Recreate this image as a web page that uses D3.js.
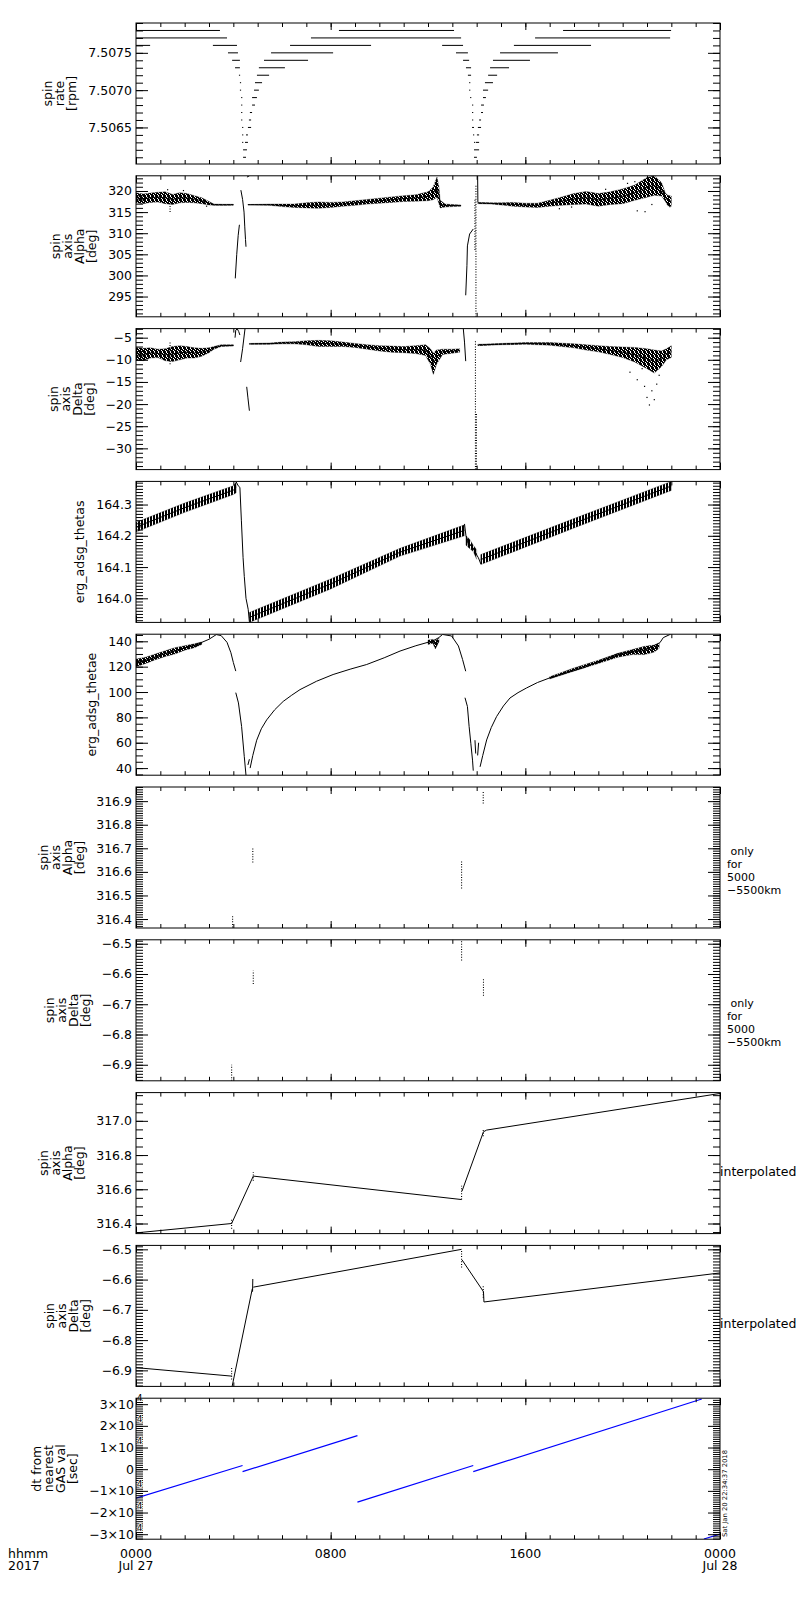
<!DOCTYPE html>
<html>
<head>
<meta charset="utf-8">
<script src="https://cdn.jsdelivr.net/npm/d3@7"></script>
<style>
  body { margin: 0; background: #fff; }
  svg { display: block; }
  text { font-family: "DejaVu Sans", sans-serif; fill: #000; }
</style>
</head>
<body>
<svg id="chart" width="800" height="1600"></svg>
<script>
// ---- data (time in hours of Jul 27 2017) ----
var yLabels = [
  ["spin", "rate", "[rpm]"],
  ["spin", "axis", "Alpha", "[deg]"],
  ["spin", "axis", "Delta", "[deg]"],
  ["erg_adsg_thetas"],
  ["erg_adsg_thetae"],
  ["spin", "axis", "Alpha", "[deg]"],
  ["spin", "axis", "Delta", "[deg]"],
  ["spin", "axis", "Alpha", "[deg]"],
  ["spin", "axis", "Delta", "[deg]"],
  ["dt from", "nearest", "GAS val", "[sec]"]
];
var sideNotes = [null, null, null, null, null,
  [" only", "for", "5000", "\u22125500km"],
  [" only", "for", "5000", "\u22125500km"],
  ["interpolated"], ["interpolated"], null];

var xTickHours = [0, 8, 16, 24];
var xTickLabels = [["0000", "Jul 27"], ["0800"], ["1600"], ["0000", "Jul 28"]];
var xCornerLabel = ["hhmm", "2017"];
var stampText = "Sat Jan 20 22:34:37 2018";

var rateTicks = [7.5065, 7.5070, 7.5075];
var alphaTicks = [295, 300, 305, 310, 315, 320];
var deltaTicks = [-30, -25, -20, -15, -10, -5];
var thetasTicks = [164.0, 164.1, 164.2, 164.3];
var thetaeTicks = [40, 60, 80, 100, 120, 140];
var alphaOnlyTicks = [316.4, 316.5, 316.6, 316.7, 316.8, 316.9];
var deltaOnlyTicks = [-6.9, -6.8, -6.7, -6.6, -6.5];
var alphaInterpTicks = [316.4, 316.6, 316.8, 317.0];
var deltaInterpTicks = [-6.9, -6.8, -6.7, -6.6, -6.5];
var dtTicks = [-30000, -20000, -10000, 0, 10000, 20000, 30000];

// spin rate: [level, start hour, end hour]
var rateLevels = [
  [7.5078, 0.00, 3.45], [7.5078, 8.34, 13.07], [7.5078, 17.55, 21.99],
  [7.5077, 0.00, 3.74], [7.5077, 7.19, 13.36], [7.5077, 16.40, 21.95],
  [7.5076, 0.00, 0.58], [7.5076, 3.16, 4.15], [7.5076, 6.33, 9.66], [7.5076, 12.58, 13.44], [7.5076, 15.53, 18.70],
  [7.5075, 3.78, 4.19], [7.5075, 5.55, 8.10], [7.5075, 13.15, 13.64], [7.5075, 14.96, 17.34],
  [7.5074, 3.95, 4.27], [7.5074, 5.26, 7.07], [7.5074, 13.44, 13.69], [7.5074, 14.67, 16.19],
  [7.5073, 4.07, 4.27], [7.5073, 5.05, 6.12], [7.5073, 13.56, 13.77], [7.5073, 14.55, 15.33],
  [7.5072, 4.23, 4.25], [7.5072, 4.97, 5.47], [7.5072, 13.64, 13.77], [7.5072, 14.47, 14.84],
  [7.5071, 4.27, 4.29], [7.5071, 4.89, 5.18], [7.5071, 13.69, 13.71], [7.5071, 14.34, 14.67],
  [7.5070, 4.27, 4.29], [7.5070, 4.85, 5.05], [7.5070, 13.69, 13.71], [7.5070, 14.26, 14.47],
  [7.5069, 4.32, 4.34], [7.5069, 4.77, 4.97], [7.5069, 13.73, 13.77], [7.5069, 14.26, 14.38],
  [7.5068, 4.32, 4.34], [7.5068, 4.77, 4.89], [7.5068, 13.81, 13.83], [7.5068, 14.18, 14.30],
  [7.5067, 4.32, 4.34], [7.5067, 4.68, 4.77], [7.5067, 13.81, 13.83], [7.5067, 14.18, 14.26],
  [7.5066, 4.32, 4.34], [7.5066, 4.64, 4.73], [7.5066, 13.81, 13.85], [7.5066, 14.10, 14.18],
  [7.5065, 4.36, 4.38], [7.5065, 4.60, 4.73], [7.5065, 13.81, 13.89], [7.5065, 14.05, 14.18],
  [7.5064, 4.36, 4.38], [7.5064, 4.52, 4.60], [7.5064, 13.85, 13.89], [7.5064, 14.01, 14.10],
  [7.5063, 4.36, 4.40], [7.5063, 4.48, 4.60], [7.5063, 13.89, 13.93], [7.5063, 13.97, 14.10],
  [7.5062, 4.40, 4.56], [7.5062, 13.89, 14.10],
  [7.5061, 4.40, 4.52], [7.5061, 13.89, 14.01]
];

// noisy bands: [hour, low, high]
var alphaBandA = [[0.0, 317.2, 319.6], [0.3, 317.0, 319.3], [0.6, 317.3, 319.5], [0.9, 317.4, 319.7],
  [1.2, 317.0, 319.8], [1.5, 316.8, 319.2], [1.8, 317.2, 319.6], [2.1, 317.3, 319.4], [2.4, 317.2, 318.9],
  [2.7, 317.0, 318.4], [3.0, 316.7, 317.5], [3.2, 316.6, 316.9], [3.6, 316.6, 316.85], [4.0, 316.65, 316.85]];
var alphaBandB = [[4.6, 316.7, 316.8], [5.5, 316.6, 316.9], [6.0, 316.3, 316.9], [6.5, 316.1, 316.9],
  [7.0, 316.0, 317.2], [7.5, 315.9, 317.4], [8.0, 316.1, 317.3], [8.5, 316.4, 317.4], [9.0, 316.6, 317.7],
  [9.5, 316.9, 318.0], [10.0, 317.1, 318.3], [10.5, 317.3, 318.6], [11.0, 317.5, 318.9], [11.5, 317.6, 319.1],
  [12.0, 317.7, 319.8], [12.2, 317.9, 320.8], [12.37, 318.5, 323.3], [12.45, 317.0, 321.0], [12.5, 316.0, 317.8],
  [12.7, 316.2, 316.9], [13.0, 316.3, 316.8], [13.35, 316.4, 316.7]];
var alphaBandC = [[14.05, 317.0, 317.3], [14.6, 316.9, 317.2], [15.0, 316.7, 317.2], [15.5, 316.4, 317.3],
  [16.0, 316.2, 317.1], [16.5, 316.1, 317.1], [17.0, 316.4, 317.8], [17.5, 316.6, 318.6], [18.0, 316.8, 319.4],
  [18.5, 316.9, 319.9], [19.0, 316.4, 319.4], [19.5, 316.8, 319.8], [20.0, 317.0, 320.5], [20.5, 317.8, 321.4],
  [21.0, 318.5, 323.2], [21.3, 319.0, 323.6], [21.6, 318.8, 322.0], [21.75, 317.6, 319.5], [21.85, 316.5, 319.0],
  [22.0, 316.4, 318.8]];
var alphaCurves = [
  [[4.08, 299.3], [4.14, 305.0], [4.20, 309.5], [4.25, 312.0]],
  [[4.31, 320.2], [4.38, 318.0], [4.44, 315.0], [4.47, 311.5], [4.50, 308.5], [4.52, 306.8]],
  [[4.56, 323.3], [4.66, 323.6]],
  [[13.55, 295.3], [13.60, 302.3], [13.62, 307.0], [13.71, 309.8], [13.86, 311.0]],
  [[14.04, 323.6], [14.05, 317.3]]
];
var alphaSpikes = [[1.4, 315.0, 317.5], [13.97, 290.2, 321.3], [13.93, 306.0, 318.0]];
var alphaPts = [[20.5, 322.2], [20.92, 315.1], [20.6, 315.3], [21.94, 316.3], [17.4, 315.8], [17.9, 316.2],
  [19.3, 320.4], [20.2, 321.8], [21.2, 316.8], [1.3, 320.3], [1.95, 320.1], [2.9, 316.4]];

var deltaBandA = [[0.0, -10.0, -7.2], [0.3, -10.2, -7.4], [0.6, -9.6, -7.3], [0.9, -9.5, -7.6],
  [1.2, -10.2, -7.5], [1.5, -10.4, -7.0], [1.8, -10.0, -6.8], [2.1, -9.6, -7.0], [2.4, -9.6, -7.3],
  [2.7, -9.2, -7.4], [3.0, -8.4, -7.3], [3.2, -7.6, -7.0], [3.5, -7.0, -6.6], [4.0, -6.9, -6.6]];
var deltaBandB = [[4.66, -6.5, -6.3], [5.5, -6.5, -6.2], [6.0, -6.4, -6.0], [6.5, -6.4, -5.9],
  [7.0, -6.6, -5.7], [7.5, -7.0, -5.6], [8.0, -7.0, -5.7], [8.5, -7.0, -6.0], [9.0, -7.2, -6.3],
  [9.5, -7.6, -6.6], [10.0, -8.0, -6.8], [10.5, -8.3, -6.9], [11.0, -8.4, -7.0], [11.5, -8.6, -6.8],
  [11.9, -9.0, -6.6], [12.1, -11.0, -7.5], [12.22, -13.3, -8.5], [12.35, -11.0, -7.8], [12.6, -8.8, -7.6],
  [13.0, -8.5, -7.6], [13.3, -8.3, -7.5]];
var deltaBandC = [[14.05, -6.8, -6.5], [15.0, -6.6, -6.3], [16.0, -6.5, -6.1], [17.0, -6.7, -6.1],
  [18.0, -7.3, -6.4], [18.5, -7.8, -6.6], [19.0, -8.2, -6.8], [19.5, -8.8, -7.0], [20.0, -9.5, -7.1],
  [20.5, -10.5, -7.2], [21.0, -12.0, -7.5], [21.3, -13.0, -7.8], [21.6, -11.5, -8.0], [21.8, -10.0, -7.5],
  [22.0, -9.5, -6.8]];
var deltaCurves = [
  [[4.07, -5.0], [4.10, -3.3], [4.16, -3.0], [4.22, -3.6], [4.27, -4.4]],
  [[4.30, -10.5], [4.38, -7.5], [4.48, -3.0]],
  [[4.55, -16.1], [4.60, -18.6], [4.66, -21.5]],
  [[13.45, -2.95], [13.50, -6.0], [13.55, -10.3]]
];
var deltaSpikes = [[1.4, -11.0, -5.7], [13.95, -34.8, -5.5], [13.99, -34.8, -22.0]];
var deltaPts = [[20.6, -14.5], [20.9, -16.0], [21.0, -18.5], [21.1, -20.2], [21.2, -17.0], [21.4, -15.5],
  [20.3, -12.8], [21.5, -13.5], [20.8, -12.0], [21.3, -19.0]];

var thetasBands = [
  [[0.0, 164.212, 164.243], [2.0, 164.275, 164.305], [4.0, 164.332, 164.360], [4.12, 164.338, 164.372]],
  [[4.66, 163.923, 163.955], [8.0, 164.030, 164.062], [10.85, 164.135, 164.160], [13.5, 164.200, 164.235]],
  [[13.56, 164.170, 164.200], [13.7, 164.160, 164.190], [13.86, 164.150, 164.170], [14.0, 164.125, 164.155]],
  [[14.17, 164.108, 164.140], [18.0, 164.225, 164.255], [22.0, 164.345, 164.374]]
];
var thetasDrops = [
  [[4.12, 164.372], [4.20, 164.360], [4.27, 164.355], [4.33, 164.25], [4.40, 164.13], [4.45, 164.07],
   [4.52, 164.0], [4.61, 163.965], [4.66, 163.925]],
  [[13.5, 164.238], [13.56, 164.2], [13.62, 164.19], [13.66, 164.165], [13.75, 164.17], [13.86, 164.16],
   [13.95, 164.145], [14.07, 164.13], [14.17, 164.11]]
];

var thetaeBands = [
  [[0.0, 120.0, 126.0], [0.4, 122.5, 127.5], [0.8, 125.5, 130.0], [1.2, 128.0, 132.5], [1.6, 130.0, 135.0],
   [2.0, 133.0, 136.5], [2.4, 135.0, 138.0], [2.7, 137.5, 139.5]],
  [[12.0, 137.5, 141.0], [12.2, 138.5, 141.5], [12.3, 134.0, 140.5], [12.45, 139.5, 142.5]],
  [[17.0, 110.3, 112.0], [18.0, 116.5, 119.0], [19.0, 122.5, 125.0], [19.8, 127.5, 130.5], [20.4, 129.5, 133.5],
   [20.9, 129.5, 136.0], [21.3, 131.5, 137.0], [21.5, 134.5, 138.5]]
];
var thetaeLines = [
  [[0.0, 122.5], [0.5, 125.0], [1.0, 129.0], [1.5, 132.0], [2.0, 135.0], [2.5, 137.5], [3.0, 141.6], [3.3, 145.3],
   [3.5, 144.5], [3.74, 139.2], [3.9, 131.0], [4.0, 123.3], [4.1, 116.5]],
  [[4.10, 99.5], [4.21, 91.4], [4.34, 72.8], [4.45, 49.0], [4.52, 34.4]],
  [[4.60, 42.5], [4.66, 47.0]],
  [[4.69, 40.0], [4.80, 50.0], [4.96, 62.0], [5.15, 71.0], [5.37, 78.0], [5.70, 86.0], [6.05, 92.6], [6.40, 97.5],
   [6.74, 101.9], [7.42, 108.5], [8.10, 113.8], [8.80, 118.0], [9.48, 121.7], [10.2, 127.0], [10.85, 132.3],
   [11.5, 136.5], [12.2, 140.3], [12.45, 143.0], [12.6, 145.4], [12.97, 144.2], [13.25, 136.3], [13.42, 125.7],
   [13.55, 116.4]],
  [[13.52, 95.5], [13.62, 88.6], [13.69, 72.8], [13.76, 59.6], [13.83, 46.3], [13.86, 38.0]],
  [[13.93, 62.0], [13.96, 51.5]],
  [[14.04, 50.0], [14.08, 60.0]],
  [[14.14, 41.0], [14.25, 50.0], [14.41, 62.2], [14.60, 72.0], [14.82, 80.7], [15.10, 89.0], [15.37, 95.3],
   [15.70, 99.5], [16.05, 103.2], [16.50, 107.5], [17.01, 111.2], [17.70, 115.2], [18.38, 119.1], [19.07, 124.4],
   [19.75, 129.7], [20.44, 132.3], [21.12, 135.0], [21.53, 138.9], [21.67, 142.9], [21.97, 145.6]]
];

// 5000-5500 km only: [hour, low, high]
var alphaOnly = [[3.97, 316.364, 316.415], [4.80, 316.64, 316.70], [13.38, 316.53, 316.65], [14.27, 316.89, 316.94]];
var deltaOnly = [[3.93, -6.953, -6.90], [4.82, -6.633, -6.589], [13.38, -6.555, -6.489], [14.28, -6.672, -6.616]];

var alphaInterp = [
  [[0.0, 316.345], [3.93, 316.40], [4.82, 316.677], [13.38, 316.54]],
  [[13.40, 316.59], [14.28, 316.936], [14.41, 316.946], [24.0, 317.16]]
];
var alphaInterpDots = [[3.93, 316.37, 316.43], [4.82, 316.65, 316.70], [13.38, 316.54, 316.62], [14.27, 316.91, 316.95]];
var deltaInterp = [
  [[0.0, -6.891], [3.93, -6.919]],
  [[3.95, -6.953], [4.78, -6.630]],
  [[4.79, -6.640], [4.80, -6.598]],
  [[4.82, -6.625], [13.38, -6.500]],
  [[13.40, -6.535], [14.28, -6.640], [14.30, -6.674], [24.0, -6.578]]
];
var deltaInterpDots = [[3.93, -6.93, -6.89], [13.38, -6.56, -6.50], [14.27, -6.66, -6.62]];

var dtSegs = [
  [[0.0, -13400], [4.38, 1700]],
  [[4.38, -1100], [9.10, 15500]],
  [[9.10, -15200], [13.86, 1700]],
  [[13.86, -1100], [23.25, 32400]],
  [[23.34, -32200], [24.0, -29900]]
];

// ---- layout ----
var LEFT = 136, RIGHT = 720, TOP0 = 23, STEP = 152.8, PH = 141;
var FONT = 12.5;

var fmt1 = d3.format(".1f");
var panels = [
  {domain: [7.50601, 7.5079], major: rateTicks, minor: 0.0001, fmt: d3.format(".4f"),
   layers: [{type: "levels", data: rateLevels}]},
  {domain: [290.2, 323.6], major: alphaTicks, minor: 1, fmt: d3.format("d"),
   layers: [{type: "band", data: [alphaBandA, alphaBandB, alphaBandC]},
            {type: "line", data: alphaCurves}, {type: "dots", data: alphaSpikes}, {type: "pts", data: alphaPts}]},
  {domain: [-34.8, -2.95], major: deltaTicks, minor: 1, fmt: d3.format("d"),
   layers: [{type: "band", data: [deltaBandA, deltaBandB, deltaBandC]},
            {type: "line", data: deltaCurves}, {type: "dots", data: deltaSpikes}, {type: "pts", data: deltaPts}]},
  {domain: [163.923, 164.374], major: thetasTicks, minor: 0.01, fmt: fmt1,
   layers: [{type: "band", data: thetasBands, fill: "url(#stripes)"}, {type: "line", data: thetasDrops}]},
  {domain: [34.4, 145.6], major: thetaeTicks, minor: 5, fmt: d3.format("d"),
   layers: [{type: "band", data: thetaeBands}, {type: "line", data: thetaeLines}]},
  {domain: [316.362, 316.96], major: alphaOnlyTicks, minor: 0.01, fmt: fmt1,
   layers: [{type: "dots", data: alphaOnly}]},
  {domain: [-6.953, -6.487], major: deltaOnlyTicks, minor: 0.01, fmt: fmt1,
   layers: [{type: "dots", data: deltaOnly}]},
  {domain: [316.341, 317.165], major: alphaInterpTicks, minor: 0.05, fmt: fmt1,
   layers: [{type: "line", data: alphaInterp}, {type: "dots", data: alphaInterpDots}]},
  {domain: [-6.953, -6.487], major: deltaInterpTicks, minor: 0.01, fmt: fmt1,
   layers: [{type: "line", data: deltaInterp}, {type: "dots", data: deltaInterpDots}]},
  {domain: [-32300, 32760], major: dtTicks, minor: 1000, fmt: null, sci: true,
   layers: [{type: "line", data: dtSegs, color: "#0000ff", width: 1.2}]}
];

var svg = d3.select("#chart");
var x = d3.scaleLinear().domain([0, 24]).range([LEFT, RIGHT]);
var hourTicks = d3.range(0, 25);

// fill patterns that look like dense scatter / saw-tooth sampling
var defs = svg.append("defs");
var speck = defs.append("pattern").attr("id", "speck").attr("patternUnits", "userSpaceOnUse")
  .attr("width", 4).attr("height", 4);
[[0, 0], [1, 0], [3, 0], [0, 1], [1, 1], [2, 1], [0, 2], [2, 2], [3, 2], [0, 3], [1, 3], [3, 3]].forEach(function(c) {
  speck.append("rect").attr("x", c[0]).attr("y", c[1]).attr("width", 1).attr("height", 1).attr("fill", "#000");
});
defs.append("pattern").attr("id", "stripes").attr("patternUnits", "userSpaceOnUse")
  .attr("width", 3).attr("height", 6)
  .append("rect").attr("width", 2).attr("height", 6).attr("fill", "#000");

var stepTicks = function(domain, step) {
  var a = Math.ceil(domain[0] / step - 1e-9), b = Math.floor(domain[1] / step + 1e-9);
  return d3.range(a, b + 1).map(function(k) { return +(k * step).toPrecision(10); });
};

var tidyAxis = function(g) {
  g.select(".domain").remove();
  g.selectAll("line").attr("stroke", "#000").attr("stroke-width", 1);
  g.attr("font-family", null).attr("font-size", FONT);
};

var drawLayer = function(plot, y, L) {
  var col = L.color || "#000";
  var area = d3.area().x(function(d) { return x(d[0]); })
    .y0(function(d) { return y(d[1]); }).y1(function(d) { return y(d[2]); });
  var line = d3.line().x(function(d) { return x(d[0]); }).y(function(d) { return y(d[1]); });
  var mid = d3.line().x(function(d) { return x(d[0]); }).y(function(d) { return y((d[1] + d[2]) / 2); });
  if (L.type === "band") {
    L.data.forEach(function(b) {
      plot.append("path").datum(b).attr("d", area)
        .attr("fill", L.fill || "url(#speck)").attr("stroke", col).attr("stroke-width", 0.5)
        .attr("stroke-opacity", 0.6);
      plot.append("path").datum(b).attr("d", mid)
        .attr("fill", "none").attr("stroke", col).attr("stroke-width", 1);
    });
  } else if (L.type === "line") {
    L.data.forEach(function(seg) {
      plot.append("path").datum(seg).attr("d", line)
        .attr("fill", "none").attr("stroke", col).attr("stroke-width", L.width || 1);
    });
  } else if (L.type === "dots") {
    plot.selectAll(null).data(L.data).join("line")
      .attr("x1", function(d) { return x(d[0]); }).attr("x2", function(d) { return x(d[0]); })
      .attr("y1", function(d) { return y(d[1]); }).attr("y2", function(d) { return y(d[2]); })
      .attr("stroke", col).attr("stroke-width", 1.1).attr("stroke-dasharray", "1,1.6");
  } else if (L.type === "pts") {
    plot.selectAll(null).data(L.data).join("rect")
      .attr("x", function(d) { return x(d[0]) - 0.6; }).attr("y", function(d) { return y(d[1]) - 0.6; })
      .attr("width", 1.2).attr("height", 1.2).attr("fill", col);
  } else if (L.type === "levels") {
    plot.selectAll(null).data(L.data).join("rect")
      .attr("x", function(d) { return x(d[1]); })
      .attr("y", function(d) { return y(d[0]) - 0.5; })
      .attr("width", function(d) { return Math.max(1.2, x(d[2]) - x(d[1])); })
      .attr("height", 1).attr("fill", col);
  }
};

panels.forEach(function(p, i) {
  var top = TOP0 + i * STEP, bottom = top + PH, mid = top + PH / 2;
  var y = d3.scaleLinear().domain(p.domain).range([bottom, top]);
  var g = svg.append("g");

  defs.append("clipPath").attr("id", "clip" + i).append("rect")
    .attr("x", LEFT).attr("y", top).attr("width", RIGHT - LEFT).attr("height", PH);
  var plot = g.append("g").attr("clip-path", "url(#clip" + i + ")");
  p.layers.forEach(function(L) { drawLayer(plot, y, L); });

  // y axes, ticks pointing inward on both sides
  var minor = stepTicks(p.domain, p.minor);
  g.append("g").attr("transform", "translate(" + LEFT + ",0)")
    .call(d3.axisLeft(y).tickValues(minor).tickSize(-7).tickFormat("")).call(tidyAxis);
  g.append("g").attr("transform", "translate(" + RIGHT + ",0)")
    .call(d3.axisRight(y).tickValues(minor).tickSize(-7).tickFormat("")).call(tidyAxis);
  g.append("g").attr("transform", "translate(" + RIGHT + ",0)")
    .call(d3.axisRight(y).tickValues(p.major).tickSize(-12).tickFormat("")).call(tidyAxis);
  var yAx = g.append("g").attr("transform", "translate(" + LEFT + ",0)")
    .call(d3.axisLeft(y).tickValues(p.major).tickSize(-12).tickPadding(p.sci ? 2 : 4)
      .tickFormat(p.sci ? function(v) {
        if (v === 0) return "0";
        var k = v / 10000;
        return (k < 0 ? "\u2212" : "") + Math.abs(k) + "\u00d710";
      } : p.fmt))
    .call(tidyAxis);
  var labRight = LEFT + yAx.node().getBBox().x - 9;
  if (p.sci) {
    // exponent sits over the axis line, as in the original
    yAx.selectAll(".tick").filter(function(d) { return d !== 0; }).append("text")
      .attr("x", 0.8).attr("y", -4).attr("text-anchor", "start").attr("font-size", 9).attr("fill", "#000")
      .attr("stroke", "#fff").attr("stroke-width", 1.5).attr("paint-order", "stroke").text("4");
  }

  // x axes top and bottom
  g.append("g").attr("transform", "translate(0," + bottom + ")")
    .call(d3.axisBottom(x).tickValues(hourTicks).tickSize(-4).tickFormat("")).call(tidyAxis);
  g.append("g").attr("transform", "translate(0," + bottom + ")")
    .call(d3.axisBottom(x).tickValues(xTickHours).tickSize(-7).tickFormat("")).call(tidyAxis);
  g.append("g").attr("transform", "translate(0," + top + ")")
    .call(d3.axisTop(x).tickValues(hourTicks).tickSize(-4).tickFormat("")).call(tidyAxis);
  g.append("g").attr("transform", "translate(0," + top + ")")
    .call(d3.axisTop(x).tickValues(xTickHours).tickSize(-7).tickFormat("")).call(tidyAxis);

  g.append("rect").attr("x", LEFT).attr("y", top).attr("width", RIGHT - LEFT).attr("height", PH)
    .attr("fill", "none").attr("stroke", "#000").attr("stroke-width", 1);

  // rotated multi-line y label, right edge just left of tick labels
  var lab = yLabels[i];
  var lg = svg.append("g").attr("transform", "translate(" + labRight + "," + mid + ") rotate(-90)");
  lab.forEach(function(s, j) {
    lg.append("text").attr("x", 0).attr("y", -(lab.length - 1 - j) * 12 - 3)
      .attr("text-anchor", "middle").attr("font-size", FONT).text(s);
  });

  // notes at the right
  var note = sideNotes[i];
  if (note) {
    note.forEach(function(s, j) {
      var single = note.length === 1;
      svg.append("text").attr("x", single ? RIGHT : RIGHT + 7)
        .attr("y", single ? mid + 12.5 : mid - 3 + j * 13)
        .attr("font-size", single ? FONT : 11).style("white-space", "pre").text(s);
    });
  }
});

// bottom time labels
xTickHours.forEach(function(h, i) {
  xTickLabels[i].forEach(function(s, j) {
    svg.append("text").attr("x", x(h)).attr("y", 1558 + j * 12)
      .attr("text-anchor", "middle").attr("font-size", FONT).text(s);
  });
});
xCornerLabel.forEach(function(s, j) {
  svg.append("text").attr("x", 8).attr("y", 1558 + j * 12).attr("font-size", FONT).text(s);
});

// creation stamp
svg.append("g").attr("transform", "translate(727,1537) rotate(-90)")
  .append("text").attr("font-size", 6.5).attr("textLength", 87).attr("lengthAdjust", "spacingAndGlyphs")
  .text(stampText);
</script>
</body>
</html>
